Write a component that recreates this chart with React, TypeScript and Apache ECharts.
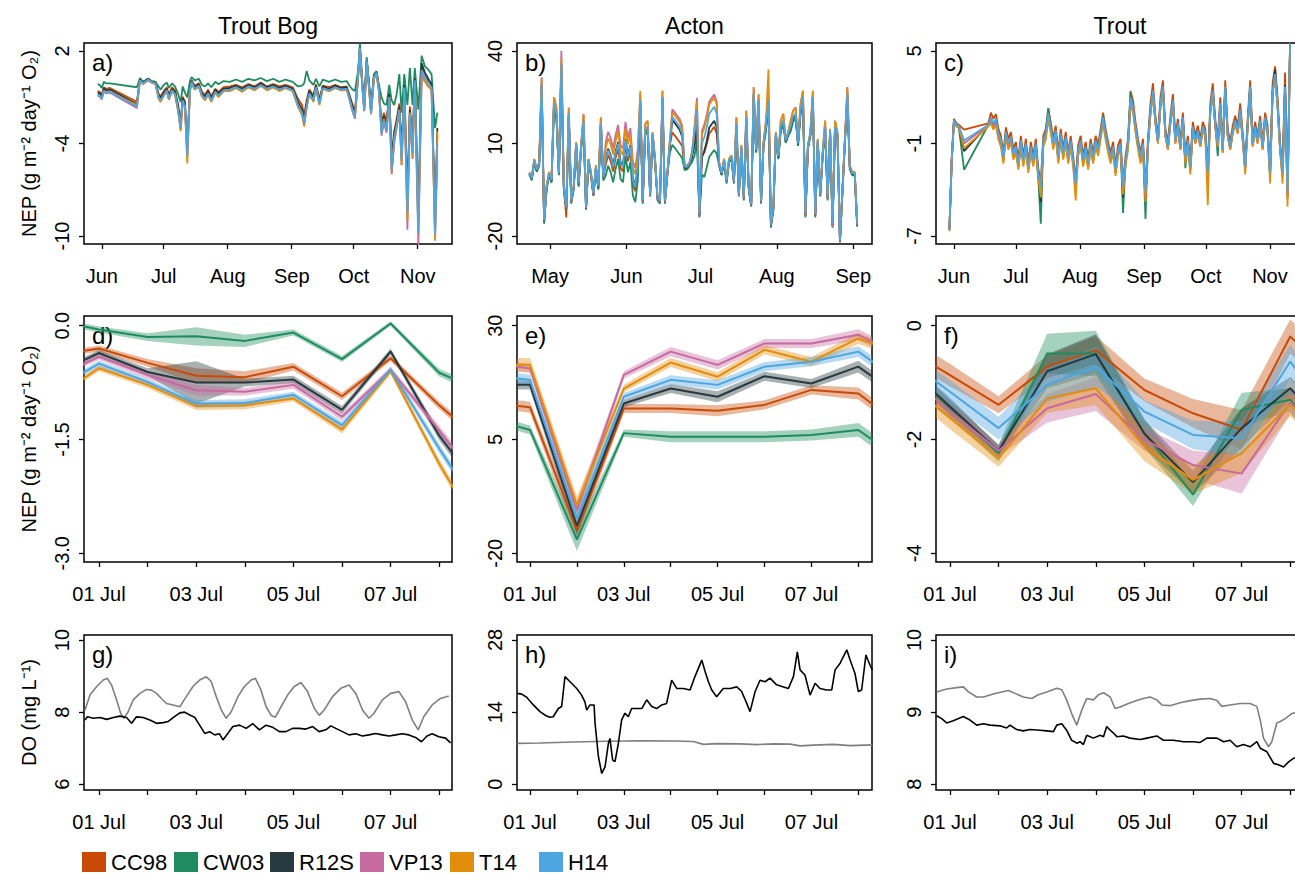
import { useEffect, useRef } from "react";
import * as echarts from "echarts";

const FONT = "'Liberation Sans', Arial, Helvetica, sans-serif";
const MODELS = ["CC98", "CW03", "R12S", "VP13", "T14", "H14"];
const COLORS = ["#C94A06", "#1E8C5E", "#28393F", "#C66A9F", "#E38D0C", "#4DA6E0"];
const LEGEND_LEFT = [82, 174, 270, 360, 450, 539];
const COLUMN_TITLES = ["Trout Bog", "Acton", "Trout"];
const PANEL_LETTERS = ["a)", "b)", "c)", "d)", "e)", "f)", "g)", "h)", "i)"];

// axis ticks
const MONTH_TICKS = [121, 152, 182, 213, 244, 274, 305];
const MONTH_LABELS = ["May", "Jun", "Jul", "Aug", "Sep", "Oct", "Nov"];
const HOUR_TICKS = [0, 24, 48, 72, 96, 120, 144, 168];
const HOUR_LABEL_TICKS = [0, 48, 96, 144];
const HOUR_LABELS = ["01 Jul", "03 Jul", "05 Jul", "07 Jul"];
const Y_TICKS = [[-10, -4, 2], [-20, 10, 40], [-7, -1, 5], [-3, -1.5, 0], [-20, 5, 30], [-4, -2, 0], [6, 8, 10], [0, 14, 28], [8, 9, 10]];
const Y_TICK_LABELS = [["-10", "-4", "2"], ["-20", "10", "40"], ["-7", "-1", "5"], ["-3.0", "-1.5", "0.0"], ["-20", "5", "30"], ["-4", "-2", "0"], ["6", "8", "10"], ["0", "14", "28"], ["8", "9", "10"]];
const Y_RANGES = [[-10.52, 2.52], [-22.6, 42.6], [-7.52, 5.52], [-3.115, 0.128], [-21.91, 32.13], [-4.153, 0.17], [5.842, 10.139], [-1.106, 28.97], [7.921, 10.069]];
const X_RANGES = [[143.4, 321.6], [107.6, 251.6], [143.3, 321.5], [-7.4, 174.3], [-6.65, 175.0], [-6.9, 174.8], [-7.4, 174.3], [-6.65, 175.0], [-6.9, 174.8]];
const Y_NAMES = ["NEP (g m\u207B\u00B2 day\u207B\u00B9 O\u2082)", "NEP (g m\u207B\u00B2 day\u207B\u00B9 O\u2082)", "DO (mg L\u207B\u00B9)"];

// layout
const COL_LEFT = [84, 517, 936];
const COL_WIDTH = [368, 355, 368];
const ROW_TOP = [43, 316, 635];
const ROW_HEIGHT = [201, 246, 155];

// ---------- panel a: Trout Bog, daily NEP (day of year) ----------
const A_DOY = [150,151,152,153,154,156,169,170.5,172,174.5,176,178,179.5,180.5,182,183.5,184.5,186,187.5,189,190.2,191.2,192.3,193.4,194.7,195.5,197,199,200.5,202,203.5,205,207,208.5,211,214,217,220,223,226,229,232,235,238,241,244.5,247,249,250,251.2,252.5,254.5,255.7,257.4,259,262,265,268,270.6,272.2,273.5,274.6,276.2,277,278.2,279.1,280.3,281.4,282.4,283.8,285.1,286.2,287.5,288.6,289.9,291.2,292.4,293.6,294.8,296.1,297.2,298.5,300,301.2,302.5,303.6,305.3,306.9,308.5,310.1,311.7,313.4,314.5];
const A_CC98 = [-0.6,-0.65,-0.85,-0.35,-0.45,-0.4,-1.3,0.15,0.0,0.2,0.05,0.0,-0.75,-0.95,-0.6,-0.35,-0.85,-0.35,-0.55,-1.5,-2.7,-0.95,-1.3,-4.3,-0.35,0.1,-0.25,-0.1,-0.65,-0.85,-0.5,-0.95,-0.45,-0.65,-0.35,-0.3,-0.2,-0.35,-0.15,-0.3,-0.05,-0.3,-0.15,-0.3,-0.2,-0.35,-1.1,-1.5,-2.2,-1.2,-0.5,-0.9,-0.15,-1.1,-0.25,-0.35,-0.2,-0.35,-0.3,-0.95,-1.5,-1.9,0.6,2.2,-0.2,-1.6,1.4,-0.2,-1.8,0.4,0.65,-0.35,-2.8,-2.0,-2.6,-0.7,-4.8,-3.2,-2.4,-1.4,-4.4,-0.1,-7.5,-1.6,-4.0,0.3,-8.8,1.0,0.5,0.1,-0.1,-8.9,-3.5];
const A_CW03 = [-0.15,-0.2,-0.4,0.0,-0.1,-0.1,-0.35,0.25,0.0,0.2,0.05,0.0,-0.3,-0.5,-0.2,-0.05,-0.4,-0.1,-0.3,-0.8,-1.3,-0.3,-0.7,-1.0,0.05,0.3,0.1,0.2,-0.2,-0.3,-0.1,-0.35,0.0,-0.15,0.05,0.0,0.15,0.0,0.2,0.1,0.25,0.05,0.2,0.0,0.15,0.0,-0.3,-0.25,-0.1,0.7,0.1,-0.2,0.2,-0.3,0.15,0.0,0.15,0.0,0.05,-0.3,-0.5,-0.6,0.8,2.5,0.0,-1.2,1.6,0.0,-1.5,0.5,0.7,-0.2,-1.0,-1.4,-1.5,-0.2,-1.2,-1.5,-0.8,0.5,-2.0,0.5,-1.5,0.9,-1.5,0.9,-1.8,1.7,1.0,0.8,0.5,-3.0,-2.0];
const A_R12S = [-0.7,-0.75,-0.95,-0.4,-0.55,-0.5,-1.45,0.15,-0.05,0.2,0.0,-0.05,-0.85,-1.05,-0.7,-0.45,-0.95,-0.45,-0.65,-1.65,-2.8,-1.05,-1.4,-4.5,-0.45,0.05,-0.35,-0.15,-0.75,-0.95,-0.6,-1.05,-0.5,-0.75,-0.45,-0.4,-0.25,-0.45,-0.2,-0.35,-0.1,-0.35,-0.2,-0.4,-0.25,-0.45,-1.3,-1.8,-2.4,-1.4,-0.6,-1.0,-0.25,-1.25,-0.3,-0.45,-0.25,-0.4,-0.35,-1.05,-1.6,-2.1,0.55,2.2,-0.25,-1.7,1.4,-0.25,-1.9,0.35,0.6,-0.45,-3.0,-2.2,-2.8,-0.8,-5.0,-3.4,-2.6,-1.6,-4.6,-0.2,-7.8,-1.8,-4.2,0.2,-9.0,1.2,0.6,0.2,-0.2,-9.2,-3.0];
const A_VP13 = [-0.9,-0.95,-1.15,-0.6,-0.75,-0.7,-1.7,0.05,-0.15,0.1,-0.05,-0.15,-1.05,-1.25,-0.9,-0.6,-1.15,-0.6,-0.85,-1.9,-3.1,-1.25,-1.65,-4.9,-0.6,-0.05,-0.5,-0.3,-0.95,-1.15,-0.8,-1.25,-0.7,-0.95,-0.6,-0.55,-0.4,-0.6,-0.35,-0.5,-0.25,-0.5,-0.35,-0.55,-0.4,-0.6,-1.6,-2.1,-2.8,-1.65,-0.8,-1.25,-0.4,-1.45,-0.45,-0.6,-0.4,-0.55,-0.5,-1.3,-1.95,-2.4,0.45,2.1,-0.4,-1.9,1.3,-0.4,-2.1,0.25,0.5,-0.6,-3.5,-2.6,-3.3,-1.1,-6.0,-4.0,-3.0,-2.0,-5.4,-0.5,-9.6,-2.2,-5.0,-0.1,-10.6,0.5,0.1,-0.3,-0.5,-10.2,-5.0];
const A_T14 = [-0.85,-0.9,-1.1,-0.6,-0.7,-0.65,-1.5,0.1,-0.1,0.1,-0.05,-0.1,-1.1,-1.3,-0.9,-0.6,-1.15,-0.6,-0.85,-1.95,-3.2,-1.25,-1.7,-5.3,-0.6,-0.05,-0.5,-0.3,-0.95,-1.2,-0.85,-1.3,-0.7,-1.0,-0.6,-0.6,-0.4,-0.65,-0.35,-0.55,-0.25,-0.55,-0.35,-0.6,-0.4,-0.6,-1.6,-2.15,-2.9,-1.7,-0.8,-1.3,-0.4,-1.5,-0.45,-0.6,-0.4,-0.55,-0.5,-1.25,-1.9,-2.35,0.45,2.1,-0.4,-1.9,1.3,-0.4,-2.1,0.2,0.4,-0.6,-3.3,-2.4,-3.1,-1.0,-5.8,-3.7,-2.8,-1.8,-5.4,-0.4,-9.0,-2.0,-4.9,0.0,-9.9,0.3,0.0,-0.3,-0.5,-10.3,-3.2];
const A_H14 = [-0.85,-0.9,-1.1,-0.55,-0.7,-0.65,-1.6,0.1,-0.1,0.15,0.0,-0.1,-1.0,-1.2,-0.85,-0.55,-1.1,-0.55,-0.8,-1.85,-3.0,-1.2,-1.6,-4.8,-0.55,0.0,-0.45,-0.25,-0.9,-1.1,-0.75,-1.2,-0.65,-0.9,-0.55,-0.5,-0.35,-0.55,-0.3,-0.45,-0.2,-0.45,-0.3,-0.5,-0.35,-0.55,-1.5,-2.0,-2.7,-1.6,-0.75,-1.2,-0.35,-1.4,-0.4,-0.55,-0.35,-0.5,-0.45,-1.2,-1.85,-2.3,0.5,2.2,-0.35,-1.85,1.4,-0.35,-2.05,0.3,0.6,-0.55,-3.35,-2.5,-3.15,-1.0,-5.7,-3.8,-2.9,-1.85,-5.1,-0.35,-8.5,-2.05,-4.65,0.1,-9.8,0.75,0.3,-0.1,-0.35,-9.9,-4.0];

// ---------- panel b: Acton, daily NEP from day 112.6 ----------
const B_START_DOY = 112.6;
const B_CC98 = [0.1,-1.6,4.2,1.1,3.1,28.8,-15.5,-4.5,0,-2.3,22.5,19.3,0,35.4,-4.5,-14,19.3,-9,-4.5,9.6,-3.4,8.6,17.2,-11.3,4.2,0,-6.8,2,-4.5,16,-1.1,3.1,6.3,4.2,0.9,5.3,8.5,2,0.9,9.5,4.2,7.5,-3.4,-5.5,1.5,23.6,-9,13.9,15,-6.8,12.8,4.2,-8,-9,24.7,-9,0,9.6,13.6,12.6,11.5,10.4,9.2,2,2,3.1,6.4,9,14.3,-13.5,6,7.1,9.9,13.2,14.3,15.4,13.2,3.1,0,4.2,-2.3,4.2,5.3,-2.3,15.9,-6.8,8.6,-8,18.2,-4.5,-10,25.8,7.4,23.6,-9,9.6,15,23.6,-16.7,-11.3,12.8,5.3,15,17.2,10.6,12.8,15,18.2,19.3,9.6,20.4,24.7,-13.5,8.6,12.8,24.7,-13.5,10.6,-7,6.4,15,-8,13.9,-16.7,15,12.8,-22,-5.9,10.6,25.8,2,0,0,-16.7];
const B_CW03 = [0,-2,3.8,0.8,2.8,27.5,-16,-5,-0.3,-2.8,21.5,18,-0.3,34,-5,-11.5,18,-9.5,-5,9.2,-4,8.2,16,-11.5,3.8,-0.3,-7,1.6,-5,15,-2,-0.4,2.8,0.7,-2.6,1.8,5,-1.5,-2.6,6,0.7,4,-6.9,-9,-2,22.5,-9.5,12.8,13.9,-7.2,12.4,3.8,-8.5,-9.5,23.6,-9.5,-0.3,7,9.6,8.6,7.5,6.4,5.2,1.4,1.6,2.8,4,6,10.8,-14,0,-0.9,2.4,5.7,6.8,7.9,6.7,2.8,-0.3,3.8,-3,3.8,4.9,-3,15,-7.2,8.2,-8.5,17.1,-5,-10.5,24.7,7,22.5,-9.5,9.2,13.9,22.5,-17.3,-11.5,12.4,4.9,13.9,16.1,10.2,12.4,13.9,17.1,18.2,9.2,19.3,23.6,-14,8.2,12.4,23.6,-14,10.2,-7.2,6,13.9,-8.5,13.3,-17.3,13.9,12.4,-22,-6.1,10.2,24.7,1.6,-0.3,-0.3,-17];
const B_R12S = [0.2,-1.5,4.4,1.2,3.3,29,-15.2,-4.3,0.1,-2.1,22.6,19.4,0.1,35.4,-4.3,-11,19.4,-8.7,-4.3,9.8,-3.3,8.8,17.3,-11,4.4,0.1,-6.6,2.2,-4.3,16.2,-0.3,5.1,8.3,6.2,2.9,7.3,10.5,4,2.9,11.5,6.2,9.5,-1.4,-3.5,2.9,23.6,-8.7,14.1,15.2,-6.6,13,4.4,-7.7,-8.7,24.8,-8.7,0.1,9.5,17.6,16.6,15.5,14.4,12.2,2.2,2.2,3.3,5.5,10,16.3,-13.2,5.5,7.6,10.9,15.2,16.3,17.4,15.2,3.3,0.1,4.4,-2.1,4.4,5.5,-2.1,16.2,-6.6,8.8,-7.7,18.3,-4.3,-9.9,25.8,7.6,23.6,-8.7,9.8,15.2,23.6,-16.4,-11,13,5.5,15.2,17.3,10.8,13,15.2,18.3,19.4,9.8,20.5,24.8,-13.2,8.8,13,24.8,-13.2,10.8,-6.6,6.6,15.2,-7.7,14.1,-16.4,15.2,13,-21.8,-5.4,10.8,25.8,2.2,0.1,0.1,-16.4];
const B_VP13 = [0.6,-1.1,4.9,1.7,3.8,31.5,-15,-4,0.6,-1.7,25,21.7,0.6,40,-4,-11,21.7,-8.8,-4,10.3,-2.7,9.3,19.6,-11,4.9,0.6,-6.5,2.7,-3.7,18.5,-0.5,10.6,13.8,11.7,8.4,12.8,16,9.5,8.4,17,11.7,15,4.1,2,8.4,26,-8.8,16.3,17.4,-6.7,13.5,4.9,-7.8,-8.8,27.1,-8.8,0.6,10.3,21.1,20.1,19,17.9,15.7,2.7,2.7,3.8,7.1,15.2,24.8,-13.2,14,16.1,19.4,23.7,24.8,25.9,23.7,3.8,0.6,4.9,-2.2,4.9,6,-2.4,18.5,-6.7,9.3,-7.8,20.6,-4.3,-9.9,28.2,8.1,26,-8.8,10.3,17.4,26,-16.4,-11,13.5,6,17.4,19.6,11.3,13.5,17.4,20.6,21.7,10.3,22.8,27.1,-13.2,9.3,13.5,27.1,-13.2,11.3,-6.7,7.1,17.4,-7.8,14.6,-17,17.4,13.5,-21.8,-5.6,11.3,28.2,2.7,0.6,0.6,-16.4];
const B_T14 = [0.5,-1.0,5.0,1.8,4.0,31,-14.5,-3.5,0.8,-1.5,25,21.5,0.8,37.5,-3.5,-10,21.5,-8,-3.5,10.5,-2.5,9.5,19.5,-10,5,0.8,-6,3,-3.5,18.5,0,8.6,11.8,9.7,6.4,10.8,14,7.5,6.4,15,9.7,13,2.1,0,6.4,27,-8,16.3,17.4,-5.7,13.7,5.1,-7,-8,27.1,-8,0.8,11.5,20.1,19.1,18,16.9,14.7,3,2.9,4,7.3,14.7,23.8,-12.2,13,15.1,18.4,22.7,23.8,24.9,22.7,4,0.8,5.1,-1.5,5.1,6.2,-1.5,18.5,-5.7,9.5,-7,20.6,-3.5,-9,28.2,8.3,26,-8,10.5,17.4,34,-15.5,-10,13.7,6.2,17.4,19.6,11.5,13.7,17.4,20.6,21.7,10.5,22.8,27.1,-12.2,9.5,13.7,27.1,-12.2,11.5,-5.7,7.3,17.4,-7,14.8,-15.5,17.4,13.7,-20.5,-4.6,11.5,28.2,2.9,0.8,0.8,-15.5];
const B_H14 = [0.3,-1.3,4.6,1.4,3.5,29.4,-14.8,-4.0,0.3,-1.9,23,19.7,0.3,35.9,-4,-10.5,19.7,-8.3,-4,10,-3,9,17.6,-10.5,4.6,0.3,-6.2,2.4,-4,16.5,-0.8,4.6,7.8,5.7,2.4,6.8,10,3.5,2.4,11,5.7,9,-1.9,-4,2.4,24,-8.3,14.3,15.4,-6.2,13.2,4.6,-7.3,-8.3,25.1,-8.3,0.3,10,18.6,17.6,16.5,15.4,13.2,2.4,2.4,3.5,6.8,13.2,20.8,-12.7,10,12.1,15.4,19.7,20.8,21.9,19.7,3.5,0.3,4.6,-1.9,4.6,5.7,-1.9,16.5,-6.2,9,-7.3,18.6,-4,-9.4,26.2,7.8,24,-8.3,10,15.4,24,-15.9,-10.5,13.2,5.7,15.4,17.6,11,13.2,15.4,18.6,19.7,10,20.8,25.1,-12.7,9,13.2,25.1,-12.7,11,-6.2,6.8,15.4,-7.3,14.3,-15.9,15.4,13.2,-21.3,-5.1,11,26.2,2.4,0.3,0.3,-15.9];

// ---------- panel c: Trout, NEP (early days then ~1.2-day readings) ----------
const C_EARLY_DOY = [149.8, 150.9, 152, 153.3, 154.4, 156.9, 168.6];
const C_LATER_START = 169.9;
const C_LATER_STEP = 1.207;
const C_CC98 = [-6.5,-2.0,0.6,0.3,0.2,-0.1,0.3,1.0,0.6,0.9,-0.05,-0.5,-1.6,0.05,-0.7,-0.25,-1.35,-0.9,-2.0,-0.5,-1.8,-0.7,-2.2,-0.9,-1.8,-0.7,-2.6,-3.5,-0.5,-0.05,1.25,0.4,-0.7,0.15,-1.6,-0.05,-1.35,-0.25,-1.6,-0.5,-1.8,-3.3,-1.1,-0.5,-1.8,-0.9,-2.0,-0.7,-1.6,-0.5,-1.1,-0.05,1.0,-0.05,-0.9,-1.6,-0.9,-2.4,-1.1,-0.7,-3.5,-1.8,-0.7,2.4,1.8,0.4,-0.7,-1.6,-0.7,-3.9,-0.7,1.6,2.9,0.8,-0.5,2.0,3.1,-0.05,-0.9,0.8,2.2,-0.5,0.6,-0.9,1.0,-1.6,-0.5,-2.2,0.4,-0.5,0.15,-0.7,0.4,-0.05,-2.6,1.6,2.9,0.6,-0.7,2.0,-1.1,3.1,-0.05,-0.9,0.15,0.8,0.15,1.6,-0.25,-2.2,0.6,3.1,-0.7,0.4,-0.5,0.8,-0.9,1.0,0.15,-2.6,2.9,4.0,2.0,-0.9,-2.6,3.6,-3.9,5.5];
const C_CW03 = [-6.6,-2.2,0.5,0.1,0.0,-2.7,0.2,0.6,0.2,0.5,-0.45,-0.9,-2.1,-0.35,-1.1,-0.65,-1.8,-1.3,-2.5,-0.9,-2.3,-1.1,-2.7,-1.3,-2.3,-1.1,-3.3,-6.2,-0.9,-0.3,1.3,0.0,-1.1,-0.25,-2.0,-0.45,-1.8,-0.65,-2.0,-0.9,-2.2,-3.8,-1.5,-0.9,-2.2,-1.3,-2.4,-1.1,-2.0,-0.9,-1.5,-0.45,0.8,-0.45,-1.3,-2.0,-1.3,-2.9,-1.5,-1.1,-5.5,-2.2,-1.1,2.3,1.3,0.0,-1.1,-2.0,-1.1,-5.9,-1.1,1.1,2.3,0.4,-0.9,1.5,2.6,-0.45,-1.3,0.4,1.7,-0.9,0.2,-1.3,0.6,-2.6,-0.9,-2.6,0.0,-0.9,-0.25,-1.1,0.0,-0.45,-3.0,1.1,2.4,0.2,-1.8,1.5,-1.5,2.6,-0.45,-1.3,-0.25,0.4,-0.25,1.1,-0.65,-2.6,0.2,2.6,-1.1,0.0,-0.9,0.4,-1.3,0.6,-0.25,-3.0,2.3,3.4,1.5,-1.3,-3.0,2.6,-4.3,5.4];
const C_R12S = [-6.6,-2.1,0.45,0.15,0.05,-1.5,0.2,0.6,0.2,0.5,-0.45,-0.9,-2.0,-0.35,-1.1,-0.65,-1.75,-1.3,-2.4,-0.9,-2.2,-1.1,-2.6,-1.3,-2.2,-1.1,-3.0,-4.8,-0.9,-0.45,0.85,0.0,-1.1,-0.25,-2.0,-0.45,-1.75,-0.65,-2.0,-0.9,-2.2,-3.7,-1.5,-0.9,-2.2,-1.3,-2.4,-1.1,-2.0,-0.9,-1.5,-0.45,0.6,-0.45,-1.3,-2.0,-1.3,-2.8,-1.5,-1.1,-4.5,-2.2,-1.1,1.9,1.3,0.0,-1.1,-2.0,-1.1,-4.6,-1.1,1.1,2.35,0.4,-0.9,1.5,2.6,-0.45,-1.3,0.4,1.7,-0.9,0.2,-1.3,0.6,-2.2,-0.9,-2.6,0.0,-0.9,-0.25,-1.1,0.0,-0.45,-3.1,1.1,2.35,0.2,-1.1,1.5,-1.5,2.6,-0.45,-1.3,-0.25,0.4,-0.25,1.1,-0.65,-2.6,0.2,2.6,-1.1,0.0,-0.9,0.4,-1.3,0.6,-0.25,-3.0,2.35,3.8,1.5,-1.3,-3.0,2.8,-4.4,5.3];
const C_VP13 = [-6.6,-2.1,0.5,0.2,0.1,-1.0,0.2,0.5,0.1,0.4,-0.55,-1.0,-2.1,-0.45,-1.2,-0.75,-1.85,-1.4,-2.5,-1.0,-2.3,-1.2,-2.7,-1.4,-2.3,-1.2,-3.1,-4.2,-1.0,-0.55,0.75,-0.1,-1.2,-0.35,-2.1,-0.55,-1.95,-0.85,-2.2,-1.1,-2.4,-3.9,-1.7,-1.1,-2.4,-1.5,-2.6,-1.3,-2.2,-1.1,-1.6,-0.55,0.5,-0.55,-1.4,-2.1,-1.4,-2.9,-1.6,-1.2,-4.2,-2.3,-1.2,1.8,1.2,-0.1,-1.2,-2.1,-1.2,-4.6,-1.2,1.0,2.25,0.3,-1.0,1.4,2.5,-0.55,-1.4,0.3,1.6,-1.0,0.1,-1.4,0.5,-2.1,-1.0,-2.8,-0.1,-1.0,-0.35,-1.2,-0.1,-0.55,-3.3,1.0,2.25,0.1,-1.2,1.4,-1.6,2.5,-0.55,-1.4,-0.35,0.3,-0.35,1.0,-0.75,-2.8,0.1,2.5,-1.2,-0.1,-1.0,0.3,-1.4,0.5,-0.35,-3.2,2.25,3.3,1.4,-1.4,-3.2,2.5,-4.6,5.3];
const C_T14 = [-6.7,-2.2,0.4,0.1,0.0,-1.3,0.1,0.3,-0.1,0.2,-0.75,-1.2,-2.3,-0.65,-1.4,-0.95,-2.05,-1.6,-2.7,-1.2,-2.5,-1.4,-2.9,-1.6,-2.5,-1.4,-3.3,-4.5,-1.2,-0.75,0.55,-0.3,-1.4,-0.55,-2.3,-0.75,-2.05,-0.95,-2.3,-1.2,-2.5,-4.7,-1.8,-1.2,-2.5,-1.6,-2.7,-1.4,-2.3,-1.2,-1.8,-0.75,0.3,-0.75,-1.6,-2.3,-1.6,-3.1,-1.8,-1.4,-4.3,-2.5,-1.4,1.6,1.0,-0.3,-1.4,-2.3,-1.4,-4.8,-1.2,0.8,2.2,0.3,-1.0,1.4,2.5,-0.55,-1.4,0.3,1.6,-1.0,0.1,-1.4,0.5,-2.3,-1.0,-3.0,-0.1,-1.0,-0.35,-1.2,-0.1,-0.55,-5.0,1.0,2.25,0.1,-1.2,1.4,-1.6,2.5,-0.55,-1.4,-0.35,0.3,-0.35,1.0,-0.75,-3.0,0.1,2.5,-1.2,-0.1,-1.0,0.3,-1.4,0.5,-0.35,-3.6,2.25,3.3,1.4,-1.4,-3.6,2.5,-5.1,5.2];
const C_H14 = [-6.6,-2.1,0.5,0.2,0.1,-0.8,0.2,0.7,0.3,0.6,-0.35,-0.8,-1.9,-0.25,-1.0,-0.55,-1.65,-1.2,-2.3,-0.8,-2.1,-1.0,-2.5,-1.2,-2.1,-1.0,-2.9,-3.8,-0.8,-0.35,0.95,0.1,-1.0,-0.15,-1.9,-0.35,-1.65,-0.55,-1.9,-0.8,-2.1,-3.6,-1.4,-0.8,-2.1,-1.2,-2.3,-1.0,-1.9,-0.8,-1.4,-0.35,0.7,-0.35,-1.2,-1.9,-1.2,-2.7,-1.4,-1.0,-3.8,-2.1,-1.0,2.0,1.4,0.1,-1.0,-1.9,-1.0,-4.2,-1.0,1.2,2.45,0.5,-0.8,1.6,2.7,-0.35,-1.2,0.5,1.8,-0.8,0.3,-1.2,0.7,-1.9,-0.8,-2.5,0.1,-0.8,-0.15,-1.0,0.1,-0.35,-2.9,1.2,2.45,0.3,-1.0,1.6,-1.4,2.7,-0.35,-1.2,-0.15,0.5,-0.15,1.2,-0.55,-2.5,0.3,2.7,-1.0,0.1,-0.8,0.5,-1.2,0.7,-0.15,-2.9,2.45,3.5,1.6,-1.2,-2.9,2.7,-4.2,5.5];

// ---------- middle row: daily means (30 Jun .. 09 Jul) with band half-widths ----------
const MID_HOURS = [-24, 0, 24, 48, 72, 96, 120, 144, 168, 192];
const D_CC98 = [-0.40,-0.30,-0.49,-0.66,-0.68,-0.54,-0.93,-0.43,-1.05,-1.6];
const D_CW03 = [0.08,-0.05,-0.15,-0.14,-0.2,-0.09,-0.44,0.03,-0.62,-0.9];
const D_R12S = [-0.66,-0.36,-0.61,-0.75,-0.75,-0.71,-1.11,-0.34,-1.45,-2.3];
const D_VP13 = [-0.71,-0.41,-0.65,-0.85,-0.87,-0.78,-1.2,-0.58,-1.38,-2.2];
const D_T14 = [-0.99,-0.56,-0.78,-1.06,-1.05,-0.96,-1.37,-0.6,-1.82,-2.9];
const D_H14 = [-0.87,-0.50,-0.74,-1.03,-1.02,-0.91,-1.31,-0.58,-1.62,-2.6];
const D_CC98_SD = [0.04,0.04,0.05,0.1,0.08,0.05,0.05,0.04,0.05,0.06];
const D_CW03_SD = [0.04,0.04,0.05,0.12,0.08,0.04,0.04,0.03,0.05,0.06];
const D_R12S_SD = [0.04,0.04,0.05,0.28,0.05,0.05,0.05,0.04,0.06,0.07];
const D_VP13_SD = [0.04,0.04,0.05,0.07,0.05,0.05,0.05,0.04,0.06,0.07];
const D_T14_SD = [0.04,0.04,0.04,0.05,0.05,0.04,0.05,0.04,0.06,0.07];
const D_H14_SD = [0.04,0.04,0.04,0.05,0.05,0.04,0.05,0.04,0.06,0.07];

const E_CC98 = [13.2,12.1,-15,11.8,11.8,11.3,12.6,15.9,15.1,7.4];
const E_CW03 = [10,7.1,-17,6.4,5.6,5.6,5.6,6.0,7.1,-0.2];
const E_R12S = [17,17.0,-14,12.9,16.2,14.4,18.9,17.3,21.0,13.7];
const E_VP13 = [22,20.6,-10.5,19.2,24.3,21.4,26.1,26.1,28.0,23];
const E_T14 = [21.4,21.4,-9.5,16.2,21.9,18.8,24.7,22.1,27.2,23.5];
const E_H14 = [19.2,18.1,-12.3,14.4,18.1,17.0,21.0,22.1,24.3,17];
const E_CC98_SD = [1.2,1.2,2,1,1,1.2,1,1,1.3,1.3];
const E_CW03_SD = [1,1,2.5,0.8,1.2,1.2,1.2,1.2,1.5,1.5];
const E_R12S_SD = [1,1,2,0.8,1,1.2,1,1,1.3,1.3];
const E_VP13_SD = [1,1,2,0.8,1,1,1,1,1.2,1.2];
const E_T14_SD = [1.5,1.5,2,0.8,1,1,1,1,1.2,1.2];
const E_H14_SD = [1.2,1.2,2,0.8,1,1,1,1,1.2,1.2];

const F_CC98 = [-0.35,-0.87,-1.39,-0.72,-0.43,-1.13,-1.54,-1.83,-0.19,-1.0];
const F_CW03 = [-0.66,-1.45,-2.24,-0.49,-0.49,-1.89,-2.97,-1.48,-1.3,-2.5];
const F_R12S = [-0.64,-1.42,-2.2,-0.8,-0.5,-1.9,-2.75,-1.8,-1.1,-2.0];
const F_VP13 = [-0.8,-1.5,-2.2,-1.45,-1.2,-2.0,-2.45,-2.6,-1.35,-2.2];
const F_T14 = [-0.92,-1.62,-2.33,-1.28,-1.1,-2.13,-2.71,-2.24,-1.39,-2.2];
const F_H14 = [-0.53,-1.16,-1.8,-1.04,-0.72,-1.51,-1.92,-1.98,-0.63,-1.8];
const F_CC98_SD = [0.2,0.2,0.15,0.2,0.25,0.2,0.25,0.35,0.3,0.3];
const F_CW03_SD = [0.15,0.15,0.15,0.35,0.4,0.25,0.2,0.3,0.2,0.3];
const F_R12S_SD = [0.15,0.15,0.1,0.3,0.35,0.25,0.2,0.35,0.2,0.3];
const F_VP13_SD = [0.15,0.15,0.1,0.25,0.3,0.2,0.25,0.35,0.2,0.3];
const F_T14_SD = [0.2,0.2,0.15,0.25,0.3,0.25,0.25,0.35,0.2,0.3];
const F_H14_SD = [0.2,0.2,0.2,0.3,0.35,0.2,0.25,0.3,0.3,0.3];

// ---------- bottom row: dissolved oxygen (hours from 01 Jul 00:00) ----------
const G_GRAY_T = [-6.9,-4.4,-1.1,2.1,4.1,6.2,8.7,10.7,12.3,14.4,16.9,20.2,23.5,25.9,28.4,30.8,33.3,36.6,39.9,43.1,46.4,49.7,53.0,55.4,57.9,60.4,62.8,65.3,68.6,71.8,75.1,77.2,80.0,82.5,85.0,87.1,89.9,93.2,96.4,99.7,103.0,106.3,108.7,111.2,115.3,119.4,123.5,126.8,130.1,133.3,135.8,139.9,144.0,148.1,151.4,154.7,157.6,160.4,164.5,168.6,172.7];
const G_GRAY = [8.06,8.48,8.71,8.89,8.94,8.75,8.34,7.97,7.83,8.01,8.34,8.52,8.63,8.61,8.52,8.38,8.24,8.2,8.15,8.43,8.71,8.89,8.98,8.85,8.43,8.06,7.83,8.01,8.43,8.71,8.89,8.94,8.61,8.15,7.91,7.86,8.15,8.48,8.71,8.82,8.57,8.11,7.91,8.06,8.43,8.66,8.75,8.52,8.06,7.83,7.97,8.34,8.52,8.57,8.29,7.78,7.51,7.88,8.2,8.38,8.45];
const G_BLACK_T = [-6.9,-5.7,-2.8,0.5,3.8,7.1,10.3,13.6,16.1,18.5,21.8,25.1,28.4,31.7,34.1,36.6,39.9,42.3,44.8,47.2,49.7,52.2,54.6,57.1,59.5,61.2,63.6,66.1,69.4,72.7,75.9,79.2,82.5,85.8,89.1,92.3,95.6,98.9,102.2,105.5,108.7,112.0,114.5,116.9,120.2,123.5,126.8,130.1,133.3,136.6,139.9,143.2,146.5,149.7,153.0,156.3,159.2,162.0,164.5,167.8,171.1,173.6];
const G_BLACK = [7.78,7.87,7.83,7.85,7.8,7.85,7.89,7.85,7.69,7.87,7.85,7.78,7.69,7.71,7.74,7.85,7.98,8.0,7.92,7.86,7.64,7.41,7.46,7.37,7.4,7.23,7.41,7.6,7.64,7.55,7.68,7.51,7.64,7.58,7.46,7.46,7.55,7.55,7.53,7.6,7.46,7.51,7.62,7.55,7.46,7.37,7.4,7.34,7.37,7.41,7.37,7.34,7.37,7.4,7.37,7.3,7.18,7.34,7.4,7.32,7.28,7.15];
const H_GRAY_T = [-6.5,5.1,22.2,39.2,56.3,73.4,83.6,88.7,95.5,107.5,116.0,124.5,133.1,138.2,145.0,155.2,163.8,175.2];
const H_GRAY = [7.95,8.0,8.2,8.35,8.45,8.4,8.3,7.75,7.9,7.85,7.7,7.85,7.8,7.45,7.6,7.75,7.5,7.65];
const H_BLACK_T = [-6.5,-4.3,-1.7,1.7,5.1,8.2,10.2,11.9,14.5,16.2,17.9,20.5,23.9,26.4,28.1,29.0,30.7,32.8,33.3,35.0,36.7,38.4,40.1,40.9,42.3,43.5,45.2,46.9,48.6,50.3,52.0,54.6,57.2,59.7,62.3,64.8,67.4,69.9,72.5,75.1,78.5,81.9,84.4,87.9,89.6,91.3,93.0,95.5,98.9,102.4,105.8,108.3,110.9,112.6,115.2,117.7,120.3,122.8,126.2,129.7,132.2,134.8,136.8,138.2,140.7,143.3,145.9,148.4,151.8,154.4,156.1,158.7,162.1,163.8,166.3,168.0,169.7,171.9,174.0,175.2];
const H_BLACK = [17.65,17.5,16.9,15.4,14.1,13.3,13.0,13.1,14.7,15.1,20.9,19.9,18.6,17.3,16.0,14.4,15.4,15.4,11.8,5.4,2.1,3.4,7.9,8.9,4.7,4.4,7.9,12.5,13.8,13.1,14.7,14.7,14.7,16.4,15.1,14.7,15.4,15.7,20.2,18.6,18.6,18.3,20.9,24.1,21.9,19.9,18.3,17.0,18.6,18.6,18.9,18.0,15.7,14.1,18.0,20.2,19.9,20.6,19.3,18.9,18.6,20.9,25.7,22.2,21.2,17.3,19.6,18.6,18.3,18.3,22.2,23.5,26.1,24.1,21.5,18.0,18.3,25.1,23.1,22.2];
const I_GRAY_T = [-6.6,-1.6,3.3,6.6,9.1,13.2,16.5,21.4,25.5,28.8,32.1,36.2,40.4,43.6,47.8,52.7,55.2,57.6,60.1,62.6,65.1,67.5,70.8,73.3,75.8,79.1,81.5,84.0,88.1,92.2,95.5,98.8,102.1,104.6,108.7,113.6,118.6,123.5,128.5,131.8,134.2,138.3,143.3,148.2,151.5,153.2,154.8,157.3,158.9,161.4,163.1,165.5,168.8,172.1];
const I_GRAY = [9.28,9.32,9.34,9.35,9.28,9.21,9.21,9.25,9.28,9.3,9.26,9.21,9.19,9.24,9.28,9.33,9.31,9.17,8.98,8.82,9.03,9.19,9.17,9.24,9.27,9.21,9.05,9.07,9.12,9.16,9.19,9.21,9.17,9.1,9.09,9.13,9.16,9.18,9.19,9.16,9.08,9.1,9.12,9.12,9.08,8.89,8.64,8.52,8.59,8.85,8.87,8.91,8.98,9.0];
const I_BLACK_T = [-6.6,-4.1,-1.6,1.6,6.6,9.9,13.2,16.5,19.8,24.7,28.0,29.6,32.9,36.2,39.5,44.5,47.8,51.1,52.7,55.2,57.6,60.1,62.6,64.2,65.9,67.5,70.8,74.1,75.8,77.4,79.1,80.7,82.4,85.6,88.9,93.9,97.2,102.1,105.4,110.3,115.3,120.2,123.5,126.8,131.8,135.1,138.3,141.6,144.9,148.2,151.5,153.2,156.5,159.8,162.2,164.7,167.2,169.6,172.9];
const I_BLACK = [8.95,8.91,8.85,8.88,8.94,8.89,8.82,8.84,8.82,8.81,8.78,8.82,8.76,8.74,8.76,8.75,8.74,8.73,8.82,8.84,8.75,8.61,8.57,8.59,8.55,8.68,8.64,8.68,8.66,8.8,8.75,8.71,8.66,8.67,8.64,8.62,8.64,8.67,8.61,8.61,8.59,8.59,8.58,8.64,8.64,8.59,8.61,8.52,8.55,8.52,8.59,8.5,8.45,8.29,8.27,8.24,8.31,8.36,8.38];

// ---------- helpers ----------
function zip(xs: number[], ys: number[]) {
  const n = Math.min(xs.length, ys.length);
  const out: number[][] = [];
  for (let i = 0; i < n; i++) out.push([xs[i], ys[i]]);
  return out;
}
function rgba(hex: string, a: number) {
  const r = parseInt(hex.slice(1, 3), 16), g = parseInt(hex.slice(3, 5), 16), b = parseInt(hex.slice(5, 7), 16);
  return `rgba(${r},${g},${b},${a})`;
}

function buildOption() {
  const bDoy = B_H14.map((_, i) => B_START_DOY + i);
  const cDoy = C_EARLY_DOY.concat(C_H14.slice(C_EARLY_DOY.length).map((_, i) => C_LATER_START + i * C_LATER_STEP));
  const topX = [A_DOY, bDoy, cDoy];
  const topVals = [
    [A_CC98, A_CW03, A_R12S, A_VP13, A_T14, A_H14],
    [B_CC98, B_CW03, B_R12S, B_VP13, B_T14, B_H14],
    [C_CC98, C_CW03, C_R12S, C_VP13, C_T14, C_H14],
  ];
  const midVals = [
    [D_CC98, D_CW03, D_R12S, D_VP13, D_T14, D_H14],
    [E_CC98, E_CW03, E_R12S, E_VP13, E_T14, E_H14],
    [F_CC98, F_CW03, F_R12S, F_VP13, F_T14, F_H14],
  ];
  const midSd = [
    [D_CC98_SD, D_CW03_SD, D_R12S_SD, D_VP13_SD, D_T14_SD, D_H14_SD],
    [E_CC98_SD, E_CW03_SD, E_R12S_SD, E_VP13_SD, E_T14_SD, E_H14_SD],
    [F_CC98_SD, F_CW03_SD, F_R12S_SD, F_VP13_SD, F_T14_SD, F_H14_SD],
  ];
  const doSeries = [
    [[G_GRAY_T, G_GRAY], [G_BLACK_T, G_BLACK]],
    [[H_GRAY_T, H_GRAY], [H_BLACK_T, H_BLACK]],
    [[I_GRAY_T, I_GRAY], [I_BLACK_T, I_BLACK]],
  ];

  const grid: any[] = [], xAxis: any[] = [], yAxis: any[] = [], series: any[] = [], graphic: any[] = [];
  const labelStyle = { fontSize: 20, color: "#000", fontFamily: FONT };

  for (let p = 0; p < 9; p++) {
    const row = Math.floor(p / 3), col = p % 3;
    grid.push({
      left: COL_LEFT[col], top: ROW_TOP[row], width: COL_WIDTH[col], height: ROW_HEIGHT[row],
      show: true, borderColor: "#000", borderWidth: 1.5, backgroundColor: "transparent",
      containLabel: false, outerBoundsMode: "none",
    });
    const xr = X_RANGES[p];
    const isTop = row === 0;
    const ticks = (isTop ? MONTH_TICKS : HOUR_TICKS).filter((t) => t >= xr[0] && t <= xr[1]);
    const labelTicks = (isTop ? MONTH_TICKS : HOUR_LABEL_TICKS).filter((t) => t >= xr[0] && t <= xr[1]);
    xAxis.push({
      gridIndex: p, type: "value", min: xr[0], max: xr[1], position: "bottom",
      axisLine: { show: false, onZero: false },
      splitLine: { show: false },
      axisTick: { show: true, inside: false, length: 5, customValues: ticks, lineStyle: { color: "#000", width: 1.3 } },
      axisLabel: {
        show: true, customValues: labelTicks, margin: 22, ...labelStyle,
        formatter: (v: number) => isTop ? MONTH_LABELS[MONTH_TICKS.indexOf(v)] : HOUR_LABELS[HOUR_LABEL_TICKS.indexOf(v)],
      },
    });
    const yr = Y_RANGES[p];
    yAxis.push({
      gridIndex: p, type: "value", min: yr[0], max: yr[1], position: "left",
      axisLine: { show: false, onZero: false },
      splitLine: { show: false },
      axisTick: { show: true, inside: false, length: 5, customValues: Y_TICKS[p], lineStyle: { color: "#000", width: 1.3 } },
      axisLabel: {
        show: true, customValues: Y_TICKS[p], rotate: 90, margin: 12, ...labelStyle,
        formatter: (v: number) => Y_TICK_LABELS[p][Y_TICKS[p].indexOf(v)],
      },
    });
    graphic.push({
      type: "text", x: COL_LEFT[col] + 8, y: ROW_TOP[row] + 19, silent: true,
      style: { text: PANEL_LETTERS[p], fontSize: 24, fill: "#000", fontFamily: FONT, textVerticalAlign: "middle" },
    });

    if (row === 0) {
      MODELS.forEach((m, k) => {
        series.push({
          type: "line", name: m, xAxisIndex: p, yAxisIndex: p, data: zip(topX[col], topVals[col][k]),
          showSymbol: false, symbol: "none", clip: true, silent: true, color: COLORS[k],
          lineStyle: { width: 1.8, color: COLORS[k] }, itemStyle: { color: COLORS[k] }, z: 2 + k,
        });
      });
    } else if (row === 1) {
      MODELS.forEach((m, k) => {
        const mean = midVals[col][k], sd = midSd[col][k];
        series.push({
          type: "custom", name: m + " band", xAxisIndex: p, yAxisIndex: p, clip: true, silent: true, z: 1,
          data: [[MID_HOURS[1], mean[1]]],
          renderItem: (_params: any, api: any) => {
            const upper = MID_HOURS.map((h, i) => api.coord([h, mean[i] + sd[i]]));
            const lower = MID_HOURS.map((h, i) => api.coord([h, mean[i] - sd[i]])).reverse();
            return { type: "polygon", shape: { points: upper.concat(lower) }, style: { fill: rgba(COLORS[k], 0.4) } };
          },
        });
      });
      MODELS.forEach((m, k) => {
        series.push({
          type: "line", name: m, xAxisIndex: p, yAxisIndex: p, data: zip(MID_HOURS, midVals[col][k]),
          showSymbol: false, symbol: "none", clip: true, silent: true, color: COLORS[k],
          lineStyle: { width: 2, color: COLORS[k] }, itemStyle: { color: COLORS[k] }, z: 3 + k,
        });
      });
    } else {
      const [gray, black] = doSeries[col];
      series.push({
        type: "line", name: "surface DO " + col, xAxisIndex: p, yAxisIndex: p, data: zip(gray[0], gray[1]),
        showSymbol: false, symbol: "none", clip: true, silent: true, lineStyle: { width: 1.6, color: "#7f7f7f" }, z: 2,
      });
      series.push({
        type: "line", name: "deep DO " + col, xAxisIndex: p, yAxisIndex: p, data: zip(black[0], black[1]),
        showSymbol: false, symbol: "none", clip: true, silent: true, lineStyle: { width: 1.6, color: "#000" }, z: 3,
      });
    }
  }

  // y-axis names for the first column
  for (let row = 0; row < 3; row++) {
    graphic.push({
      type: "text", x: 29, y: ROW_TOP[row] + ROW_HEIGHT[row] / 2, rotation: Math.PI / 2, silent: true,
      style: { text: Y_NAMES[row], fontSize: 20, fill: "#000", fontFamily: FONT, textAlign: "center", textVerticalAlign: "middle" },
    });
  }

  const title = COLUMN_TITLES.map((t, col) => ({
    text: t, left: COL_LEFT[col] + COL_WIDTH[col] / 2, top: 14, textAlign: "center", padding: 0,
    textStyle: { fontSize: 23, fontWeight: "normal", color: "#000", fontFamily: FONT },
  }));

  const legend = MODELS.map((m, k) => ({
    left: LEGEND_LEFT[k], top: 851, padding: 0, itemGap: 0, itemWidth: 24, itemHeight: 20,
    selectedMode: false, data: [{ name: m, icon: "rect", itemStyle: { color: COLORS[k], borderWidth: 0 } }],
    textStyle: { fontSize: 22, lineHeight: 22, color: "#000", fontFamily: FONT },
  }));

  return { animation: false, backgroundColor: "#fff", title, legend, grid, xAxis, yAxis, series, graphic };
}

export default function App() {
  const ref = useRef<HTMLDivElement>(null);
  useEffect(() => {
    if (!ref.current) return;
    const chart = echarts.init(ref.current, undefined, { renderer: "svg" });
    chart.setOption(buildOption());
    return () => chart.dispose();
  }, []);
  return <div ref={ref} style={{ position: "absolute", left: 0, top: 0, width: 1295, height: 874 }} />;
}
